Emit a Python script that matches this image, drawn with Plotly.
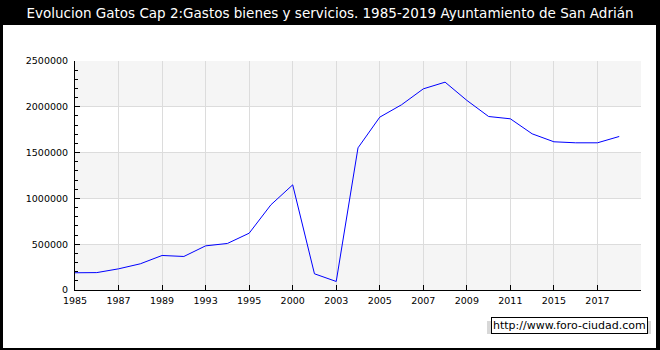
import plotly.graph_objects as go

years = ["1985", "1986", "1987", "1988", "1989", "1991", "1993", "1994", "1995",
         "1997", "2000", "2002", "2003", "2004", "2005", "2006", "2007", "2008",
         "2009", "2010", "2011", "2012", "2015", "2016", "2017", "2018"]
gastos = [188000, 190000, 231000, 286000, 377000, 366000, 482000, 508000, 620000,
          930000, 1148000, 177000, 93000, 1552000, 1887000, 2022000, 2196000, 2269000,
          2070000, 1894000, 1869000, 1705000, 1618000, 1607000, 1607000, 1676000]
tick_years = years[::2]
y_ticks = [0, 500000, 1000000, 1500000, 2000000, 2500000]
title = "Evolucion Gatos Cap 2:Gastos bienes y servicios. 1985-2019 Ayuntamiento de San Adrián"
watermark = "http://www.foro-ciudad.com"

FONT = "DejaVu Sans"
W, H = 660, 350
L, R, T, B = 75, 19, 61, 60
pw, ph = W - L - R, H - T - B

def px_x(x):
    return (x - L) / pw

def px_y(y):
    return (H - B - y) / ph

fig = go.Figure()
fig.add_trace(go.Scatter(x=years, y=gastos, mode="lines",
                         line=dict(color="#0000ff", width=1), hoverinfo="x+y"))

shapes = []
# white inner panel on black frame
shapes.append(dict(type="rect", xref="paper", yref="paper", layer="below",
                   x0=px_x(3), x1=px_x(656), y0=px_y(348), y1=px_y(25),
                   fillcolor="white", line=dict(width=0)))
# alternating bands
for i in range(0, len(y_ticks) - 1, 2):
    shapes.append(dict(type="rect", xref="paper", yref="y", layer="below",
                       x0=0, x1=1, y0=y_ticks[i], y1=y_ticks[i + 1],
                       fillcolor="#f5f5f5", line=dict(width=0)))
# watermark shadow
shapes.append(dict(type="rect", xref="paper", yref="paper", layer="above",
                   x0=px_x(487), x1=px_x(651), y0=px_y(334), y1=px_y(321),
                   fillcolor="#d8d8d8", line=dict(width=0)))

fig.update_layout(
    width=W, height=H,
    margin=dict(l=L, r=R, t=T, b=B),
    paper_bgcolor="black",
    plot_bgcolor="white",
    showlegend=False,
    font=dict(family=FONT, size=10, color="black"),
    title=dict(text=title, x=0.5, xanchor="center", xref="container",
               y=1 - 13 / H, yanchor="middle", yref="container",
               font=dict(family=FONT, size=13.5, color="white")),
    shapes=shapes,
    annotations=[dict(text=watermark, xref="paper", yref="paper",
                      x=px_x(648), y=px_y(325.5), xanchor="right", yanchor="middle",
                      showarrow=False, bgcolor="white", bordercolor="black",
                      borderwidth=1, borderpad=1,
                      font=dict(family=FONT, size=11, color="black"))],
)

fig.update_xaxes(
    type="category", range=[0, 26],
    tickmode="array", tickvals=tick_years, ticktext=tick_years,
    showgrid=True, gridcolor="#dcdcdc", gridwidth=1,
    showline=True, linecolor="black", linewidth=1,
    ticks="inside", ticklen=5, tickcolor="black",
    tickfont=dict(family=FONT, size=9.5, color="black"),
    ticklabelstandoff=2,
    zeroline=False, fixedrange=True,
)
fig.update_yaxes(
    range=[0, 2500000],
    tickmode="array", tickvals=y_ticks, ticktext=[str(v) for v in y_ticks],
    showgrid=True, gridcolor="#dcdcdc", gridwidth=1,
    showline=True, linecolor="black", linewidth=1,
    ticks="inside", ticklen=5, tickcolor="black",
    minor=dict(dtick=100000, tick0=0, ticks="inside", ticklen=3,
               tickcolor="black", showgrid=False),
    tickfont=dict(family=FONT, size=9.5, color="black"),
    ticklabelstandoff=4,
    zeroline=False, fixedrange=True,
)

fig.write_html("out.html", config={"displayModeBar": False},
               post_script="document.body.style.margin='0';document.body.style.overflow='hidden';")
